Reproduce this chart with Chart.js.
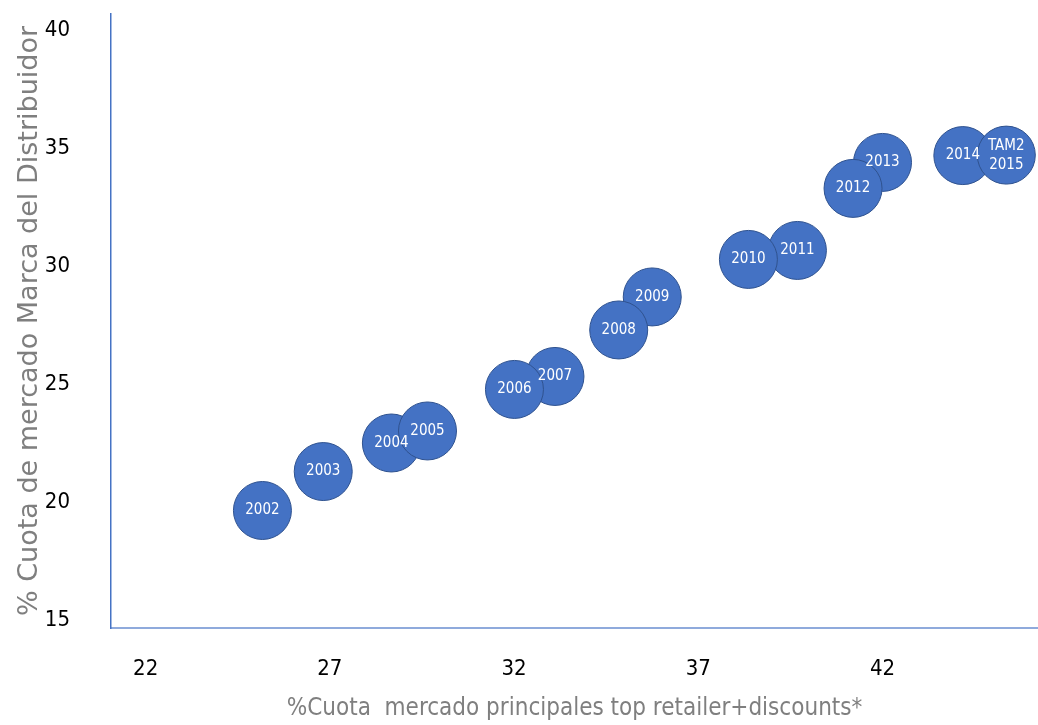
<!DOCTYPE html>
<html>
<head>
<meta charset="utf-8">
<script src="https://cdn.jsdelivr.net/npm/chart.js@4.4.1/dist/chart.umd.min.js"></script>
<style>
  html, body { margin: 0; padding: 0; background: #fff; }
  #wrap { width: 1038px; height: 725px; }
</style>
</head>
<body>
<div id="wrap"><canvas id="bubble-chart"></canvas></div>
<script>
// data (listed in the order the bubbles are stacked)
const years   = ['2002', '2003', '2004', '2005', '2007', '2006', '2009', '2008', '2011', '2010', '2013', '2012', '2014', ['TAM2', '2015']];
const retail  = [25.17, 26.82, 28.67, 29.65, 33.11, 32.01, 35.75, 34.84, 39.69, 38.36, 42.0, 41.2, 44.18, 45.36];
const plShare = [19.66, 21.31, 22.52, 23.03, 25.34, 24.79, 28.71, 27.31, 30.68, 30.3, 34.41, 33.31, 34.7, 34.72];
const xTicks  = [22, 27, 32, 37, 42];
const yTicks  = [15, 20, 25, 30, 35, 40];

const narrow = '"Liberation Sans Narrow", "DejaVu Sans Condensed", sans-serif';

// write the year inside each bubble
const bubbleLabels = {
  id: 'bubbleLabels',
  afterDatasetsDraw(chart) {
    const ctx = chart.ctx;
    const meta = chart.getDatasetMeta(0);
    ctx.save();
    ctx.fillStyle = '#ffffff';
    ctx.font = '15px ' + narrow;
    ctx.textAlign = 'center';
    ctx.textBaseline = 'middle';
    meta.data.forEach((pt, i) => {
      const lab = years[i];
      if (Array.isArray(lab)) {
        ctx.fillText(lab[0], pt.x, pt.y - 9);
        ctx.fillText(lab[1], pt.x, pt.y + 10);
      } else {
        ctx.fillText(lab, pt.x, pt.y);
      }
    });
    ctx.restore();
  }
};

const chart = new Chart(document.getElementById('bubble-chart'), {
  type: 'bubble',
  data: {
    datasets: [{
      label: '% Cuota',
      data: retail.map((x, i) => ({ x: x, y: plShare[i], r: 29 })),
      backgroundColor: '#4472C4',
      borderColor: '#2F528F',
      borderWidth: 1,
      clip: false
    }]
  },
  options: {
    responsive: true,
    maintainAspectRatio: false,
    animation: false,
    layout: { autoPadding: false, padding: { top: 14, right: 0, left: 0, bottom: 0 } },
    plugins: {
      legend: { display: false },
      tooltip: { enabled: false }
    },
    scales: {
      x: {
        type: 'linear',
        min: 21.06,
        max: 46.22,
        afterBuildTicks: (axis) => { axis.ticks = xTicks.map(v => ({ value: v })); },
        afterFit: (axis) => { axis.height = 97; axis.paddingLeft = 0; axis.paddingRight = 0; },
        grid: { display: false },
        border: { display: true, color: '#8FAADC', width: 2 },
        ticks: { color: '#000', padding: 20, maxRotation: 0, font: { family: narrow, size: 22 } },
        title: {
          display: true,
          text: '%Cuota  mercado principales top retailer+discounts*',
          color: '#7F7F7F',
          font: { family: narrow, size: 24, lineHeight: 1 },
          padding: { top: 0, bottom: 4 }
        }
      },
      y: {
        type: 'linear',
        min: 14.68,
        max: 40.7,
        afterBuildTicks: (axis) => { axis.ticks = yTicks.map(v => ({ value: v })); },
        // keep the tick padding from pushing the plot top down
        afterFit: (axis) => { axis.width = 111; axis.paddingTop = 0; axis.paddingBottom = 0; },
        grid: { display: false },
        border: { display: true, color: '#4472C4', width: 1.5 },
        ticks: { color: '#000', padding: 33, font: { family: narrow, size: 22 } },
        title: {
          display: true,
          text: '% Cuota de mercado Marca del Distribuidor',
          color: '#7F7F7F',
          font: { family: '"DejaVu Sans", Verdana, sans-serif', size: 27, lineHeight: 1 },
          padding: { top: 16, bottom: 0 }
        }
      }
    }
  },
  plugins: [bubbleLabels]
});
</script>
</body>
</html>
